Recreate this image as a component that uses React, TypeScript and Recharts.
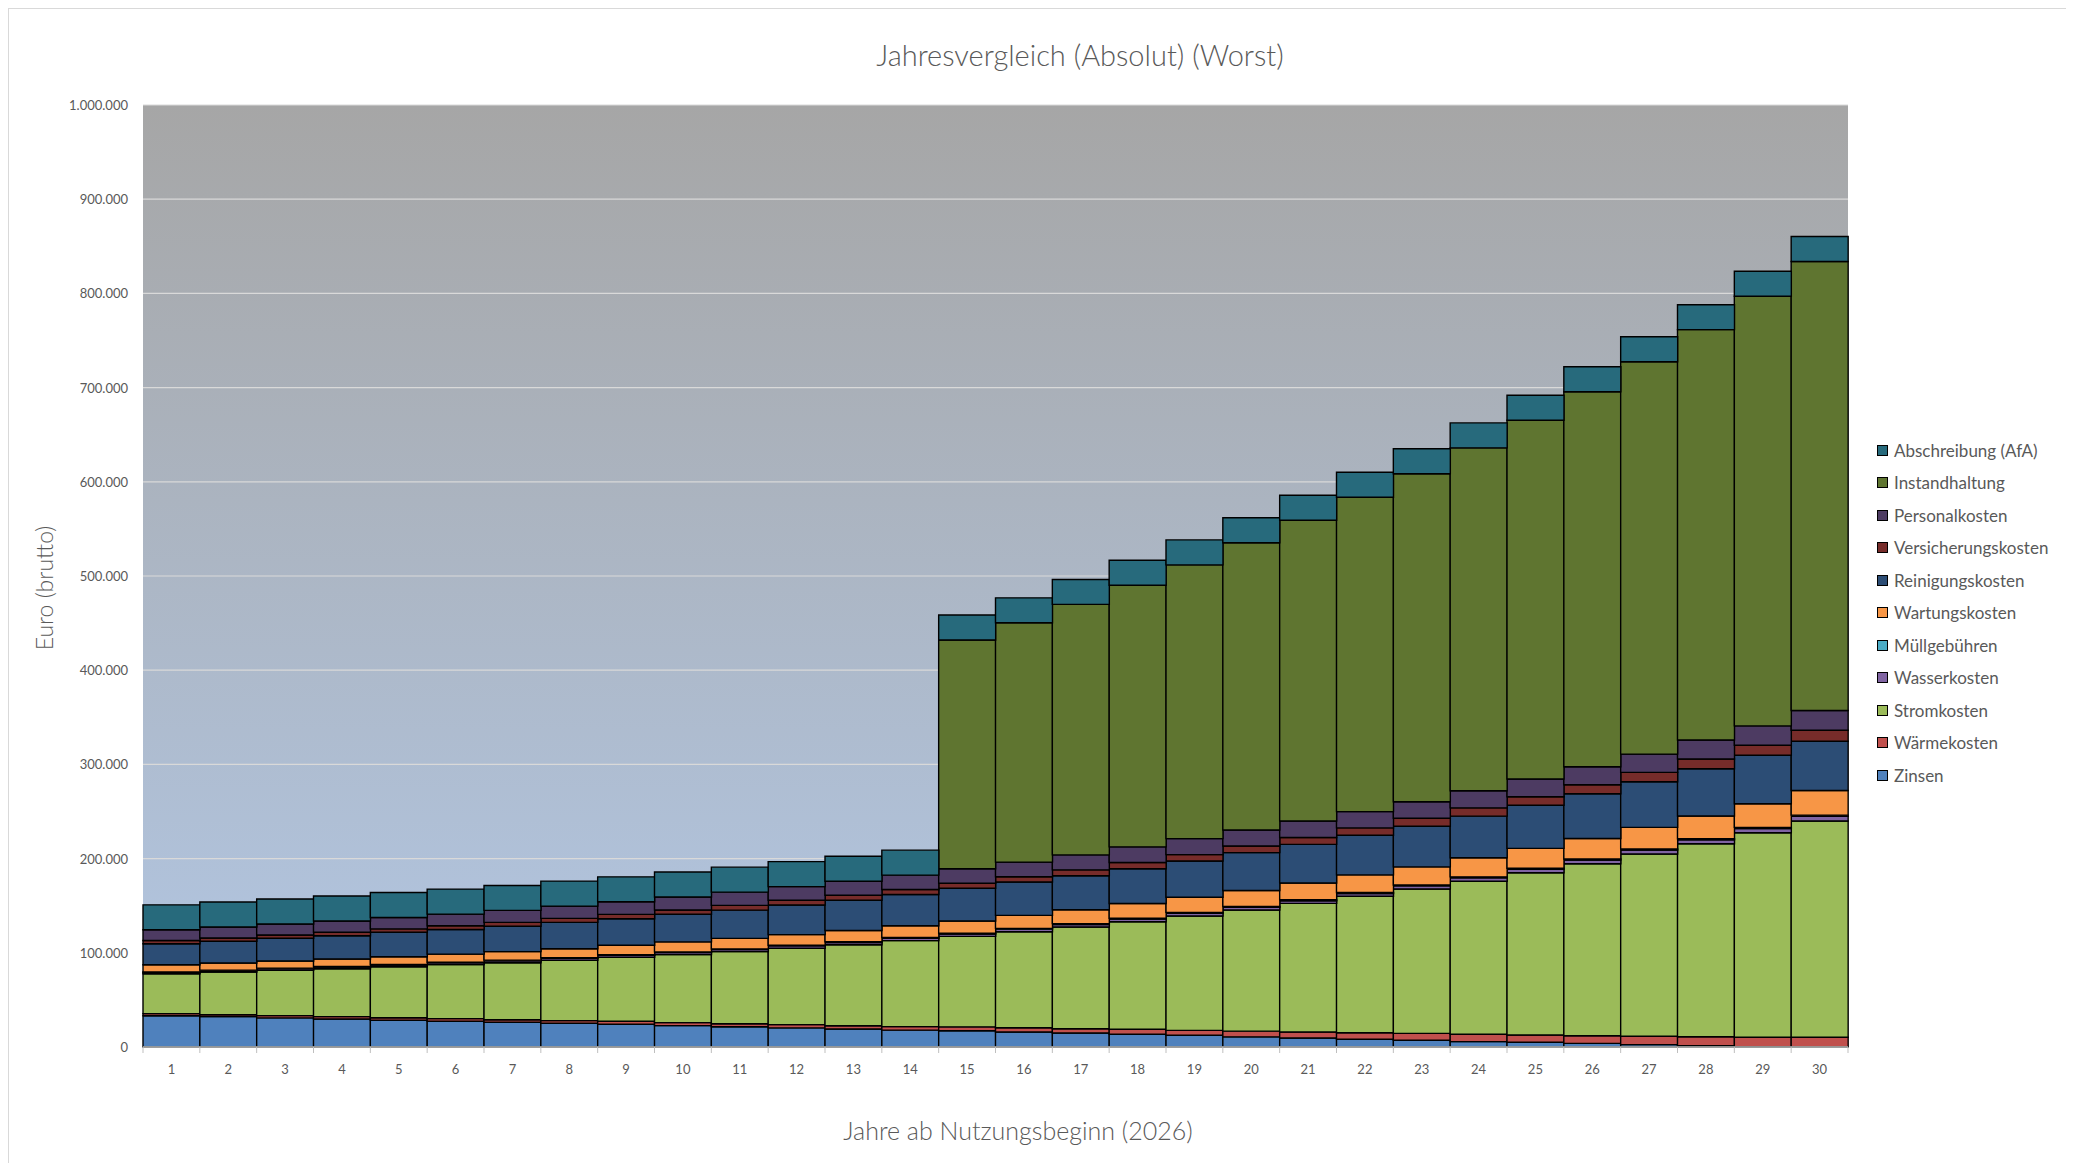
import React from 'react';
import { BarChart, Bar, XAxis, YAxis, CartesianGrid, Legend } from 'recharts';

const years = [1, 2, 3, 4, 5, 6, 7, 8, 9, 10, 11, 12, 13, 14, 15, 16, 17, 18, 19, 20, 21, 22, 23, 24, 25, 26, 27, 28, 29, 30];

const zinsen = [33200, 32200, 30900, 29700, 28400, 27300, 26200, 25200, 24100, 22700, 21500, 20300, 19100, 17900, 17200, 15900, 14900, 13500, 12400, 10800, 9600, 8200, 7100, 5700, 5000, 3900, 2500, 1400, 400, 0];
const waermekosten = [2200, 2100, 2400, 2500, 2700, 2800, 2800, 2800, 3200, 3200, 3200, 3500, 3500, 3700, 4200, 4600, 4500, 5300, 5300, 6000, 6300, 7000, 7400, 7900, 7700, 8100, 8900, 9500, 9900, 10300];
const stromkosten = [42400, 45300, 48200, 50900, 54100, 57300, 60500, 64100, 67900, 72200, 76500, 81100, 86000, 91300, 96000, 101900, 108000, 114200, 121400, 128700, 136600, 144800, 153200, 162400, 172300, 182600, 193500, 204900, 217200, 229600];
const wasserkosten = [1300, 1500, 1700, 1800, 1900, 1900, 2100, 2100, 2100, 2200, 2200, 2400, 2400, 2600, 2500, 2700, 2700, 2800, 2900, 2800, 2800, 3000, 3300, 3600, 3600, 3800, 4100, 4100, 4400, 4900];
const muellgebuehren = [500, 500, 500, 550, 550, 600, 600, 600, 650, 650, 700, 700, 750, 750, 800, 800, 850, 850, 900, 900, 950, 1000, 1000, 1050, 1100, 1100, 1150, 1200, 1250, 1300];
const wartungskosten = [7700, 7600, 7600, 7900, 8200, 8700, 9100, 9500, 10000, 10600, 11200, 11300, 12000, 12400, 13100, 13800, 14800, 15700, 16000, 17000, 17800, 18700, 19200, 20200, 21200, 21900, 23000, 24100, 25100, 26200];
const reinigungskosten = [22300, 23000, 24100, 24800, 25900, 26200, 26900, 28000, 28200, 29400, 30000, 31500, 32100, 33300, 34700, 35400, 36000, 36800, 38600, 40100, 41000, 42100, 43200, 44200, 45700, 47400, 48400, 50200, 51400, 52300];
const versicherungskosten = [3500, 3500, 3500, 3600, 3600, 3900, 4100, 4200, 4600, 4500, 5000, 5000, 5300, 5300, 5300, 5600, 6300, 6700, 6700, 7000, 7400, 7800, 8400, 8800, 9100, 9600, 10000, 10300, 10700, 11700];
const personalkosten = [11300, 11700, 11700, 12000, 12100, 12400, 12700, 13100, 13400, 13800, 14100, 14500, 14800, 15200, 15500, 15600, 15900, 16600, 17000, 17000, 17400, 17300, 17600, 18100, 18800, 19100, 19400, 20200, 20500, 20900];
const instandhaltung = [0, 0, 0, 0, 0, 0, 0, 0, 0, 0, 0, 0, 0, 0, 242800, 254000, 265900, 277700, 290600, 305000, 319400, 333700, 348200, 364100, 380800, 398100, 416500, 435600, 456100, 476700];
const abschreibung = [26500, 26500, 26500, 26500, 26500, 26500, 26500, 26500, 26500, 26500, 26500, 26500, 26500, 26500, 26500, 26500, 26500, 26500, 26500, 26500, 26500, 26500, 26500, 26500, 26500, 26500, 26500, 26500, 26500, 26500];

const yTicks = [0, 100000, 200000, 300000, 400000, 500000, 600000, 700000, 800000, 900000, 1000000];

const seriesDefs = [
  { key: 'zinsen', name: 'Zinsen', color: '#4F81BD', values: zinsen },
  { key: 'waerme', name: 'Wärmekosten', color: '#C0504D', values: waermekosten },
  { key: 'strom', name: 'Stromkosten', color: '#9BBB59', values: stromkosten },
  { key: 'wasser', name: 'Wasserkosten', color: '#8064A2', values: wasserkosten },
  { key: 'muell', name: 'Müllgebühren', color: '#4BACC6', values: muellgebuehren },
  { key: 'wartung', name: 'Wartungskosten', color: '#F79646', values: wartungskosten },
  { key: 'reinigung', name: 'Reinigungskosten', color: '#2C4D75', values: reinigungskosten },
  { key: 'versicherung', name: 'Versicherungskosten', color: '#772C2A', values: versicherungskosten },
  { key: 'personal', name: 'Personalkosten', color: '#4D3B62', values: personalkosten },
  { key: 'instand', name: 'Instandhaltung', color: '#5F7530', values: instandhaltung },
  { key: 'afa', name: 'Abschreibung (AfA)', color: '#276A7C', values: abschreibung },
];

const data = years.map((y, i) => {
  const row: Record<string, number | string> = { year: String(y) };
  seriesDefs.forEach((s) => {
    row[s.key] = s.values[i];
  });
  return row;
});

const W = 2056;
const H = 1150;
const M = { top: 96, right: 217, bottom: 82, left: 54 };
const Y_AXIS_W = 80;
const X_AXIS_H = 30;
const PLOT_LEFT = M.left + Y_AXIS_W;
const PLOT_RIGHT = W - M.right;
const PLOT_BOTTOM = H - M.bottom - X_AXIS_H;
const BAND = (PLOT_RIGHT - PLOT_LEFT) / years.length;

const FONT = 'Lato, Carlito, "Open Sans", sans-serif';
const TXT = '#595959';

const fmt = (v: number) => String(v).replace(/\B(?=(\d{3})+(?!\d))/g, '.');

const YTick = (props: any) => {
  const { y, payload } = props;
  return (
    <text x={PLOT_LEFT - 15} y={y} textAnchor="end" dominantBaseline="central" fontFamily={FONT} fontSize={13} fill={TXT}>
      {fmt(payload.value)}
    </text>
  );
};

const XTick = (props: any) => {
  const { x, payload, index } = props;
  const left = x - BAND / 2;
  return (
    <g>
      <line x1={left} x2={left} y1={PLOT_BOTTOM} y2={PLOT_BOTTOM + 6} stroke="#BFBFBF" strokeWidth={1} />
      {index === years.length - 1 && (
        <line x1={x + BAND / 2} x2={x + BAND / 2} y1={PLOT_BOTTOM} y2={PLOT_BOTTOM + 6} stroke="#BFBFBF" strokeWidth={1} />
      )}
      <text x={x} y={PLOT_BOTTOM + 22} textAnchor="middle" dominantBaseline="central" fontFamily={FONT} fontSize={13} fill={TXT}>
        {payload.value}
      </text>
    </g>
  );
};

const renderLegend = () => (
  <div style={{ display: 'flex', flexDirection: 'column' }}>
    {[...seriesDefs].reverse().map((s) => (
      <div key={s.key} style={{ height: 32.5, display: 'flex', alignItems: 'center' }}>
        <span
          style={{
            width: 9,
            height: 9,
            background: s.color,
            border: '1px solid #000',
            marginRight: 6,
            flex: 'none',
          }}
        />
        <span style={{ fontFamily: FONT, fontSize: 17, color: TXT, whiteSpace: 'nowrap', lineHeight: 1 }}>{s.name}</span>
      </div>
    ))}
  </div>
);

export default function App() {
  return (
    <div
      style={{
        position: 'relative',
        width: 2059,
        height: 1160,
        border: '1px solid #D9D9D9',
        boxSizing: 'border-box',
        background: '#fff',
      }}
    >
      <div
        style={{
          position: 'absolute',
          left: 1080 - 9 - 400,
          width: 800,
          top: 55 - 9 - 17,
          height: 34,
          lineHeight: '34px',
          textAlign: 'center',
          fontFamily: FONT,
          fontWeight: 300,
          fontSize: 29,
          color: TXT,
        }}
      >
        Jahresvergleich (Absolut) (Worst)
      </div>
      <BarChart width={W} height={H} data={data} margin={M} barCategoryGap={0} barGap={0}>
        <defs>
          <linearGradient id="bgGrad" x1="0" y1="0" x2="0" y2="1">
            <stop offset="0%" stopColor="#A6A6A6" />
            <stop offset="100%" stopColor="#B2C7E4" />
          </linearGradient>
        </defs>
        <CartesianGrid vertical={false} stroke="#D9D9D9" strokeWidth={1.2} fill="url(#bgGrad)" fillOpacity={1} />
        <XAxis
          dataKey="year"
          height={X_AXIS_H}
          interval={0}
          tickLine={false}
          axisLine={{ stroke: '#BFBFBF', strokeWidth: 1.5 }}
          tick={<XTick />}
          label={() => (
            <text x={1018 - 9} y={1130 - 9} textAnchor="middle" dominantBaseline="central" fontFamily={FONT} fontWeight={300} fontSize={25} fill={TXT}>
              Jahre ab Nutzungsbeginn (2026)
            </text>
          )}
        />
        <YAxis
          width={Y_AXIS_W}
          domain={[0, 1000000]}
          ticks={yTicks}
          interval={0}
          axisLine={false}
          tickLine={false}
          tick={<YTick />}
          label={() => (
            <text
              x={44 - 9}
              y={588 - 9}
              transform={`rotate(-90 ${44 - 9} ${588 - 9})`}
              textAnchor="middle"
              dominantBaseline="central"
              fontFamily={FONT}
              fontWeight={300}
              fontSize={23}
              fill={TXT}
            >
              Euro (brutto)
            </text>
          )}
        />
        <Legend
          layout="vertical"
          align="center"
          verticalAlign="middle"
          content={renderLegend}
          wrapperStyle={{ left: 1877 - 9, top: 450 - 9 - 16.25, width: 190, height: 358 }}
        />
        {seriesDefs.map((s) => (
          <Bar
            key={s.key}
            dataKey={s.key}
            name={s.name}
            stackId="a"
            fill={s.color}
            stroke="#000"
            strokeWidth={1.4}
            isAnimationActive={false}
          />
        ))}
      </BarChart>
    </div>
  );
}
